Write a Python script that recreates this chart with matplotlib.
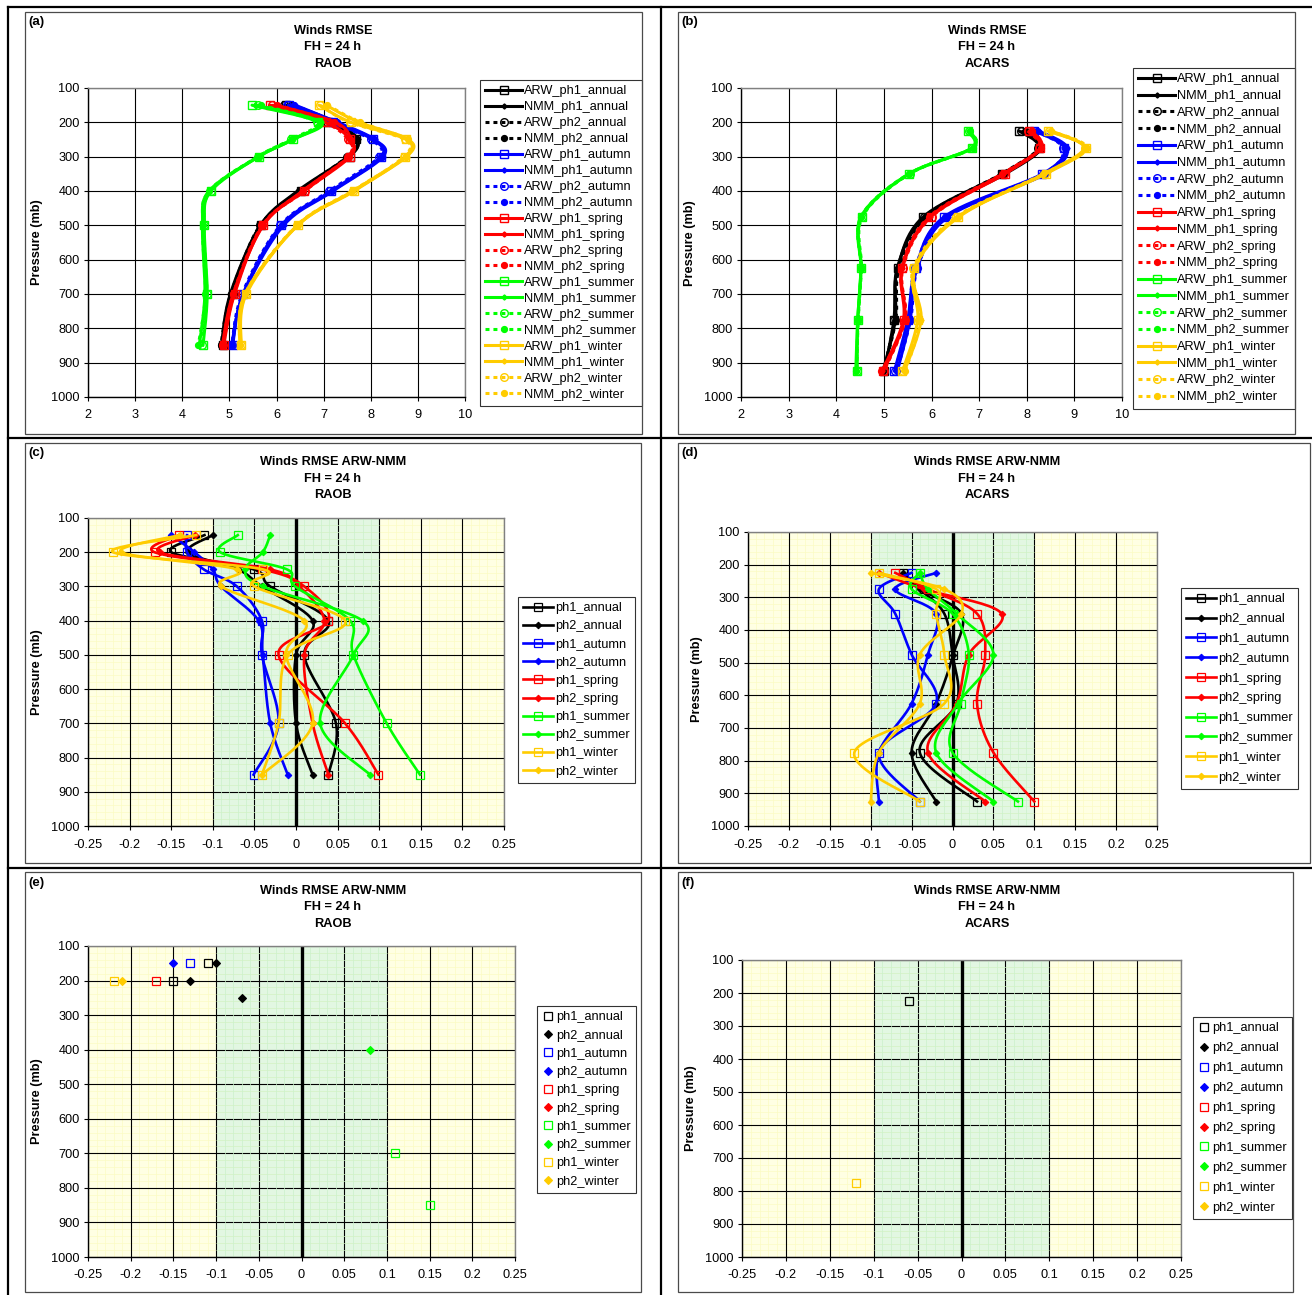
import numpy as np
import matplotlib
matplotlib.use('Agg')
import matplotlib.pyplot as plt
from matplotlib.lines import Line2D
from matplotlib.patches import Rectangle

plt.rcParams['font.family'] = ['Liberation Sans', 'DejaVu Sans']

# ---------------------------------------------------------------- data
LEVELS_RAOB = [150, 200, 250, 300, 400, 500, 700, 850]
LEVELS_ACARS = [225, 275, 350, 475, 625, 775, 925]
SEASONS = ['annual', 'autumn', 'spring', 'summer', 'winter']

# Panel (a) RAOB RMSE
A_ARW_PH1_ANNUAL = [6.20, 7.09, 7.69, 7.55, 6.52, 5.67, 5.07, 4.86]
A_NMM_PH1_ANNUAL = [6.35, 7.25, 7.72, 7.52, 6.45, 5.66, 5.02, 4.83]
A_ARW_PH2_ANNUAL = [6.15, 7.05, 7.65, 7.50, 6.55, 5.65, 5.05, 4.84]
A_NMM_PH2_ANNUAL = [6.30, 7.20, 7.70, 7.50, 6.48, 5.66, 5.03, 4.82]
A_ARW_PH1_AUTUMN = [6.26, 7.19, 8.04, 8.22, 7.16, 6.10, 5.29, 5.07]
A_NMM_PH1_AUTUMN = [6.40, 7.30, 8.08, 8.26, 7.20, 6.15, 5.30, 5.05]
A_ARW_PH2_AUTUMN = [6.22, 7.15, 8.00, 8.18, 7.12, 6.08, 5.27, 5.05]
A_NMM_PH2_AUTUMN = [6.38, 7.28, 8.06, 8.24, 7.18, 6.12, 5.30, 5.06]
A_ARW_PH1_SPRING = [5.87, 7.05, 7.56, 7.56, 6.59, 5.71, 5.11, 4.88]
A_NMM_PH1_SPRING = [6.00, 7.25, 7.58, 7.54, 6.55, 5.72, 5.08, 4.85]
A_ARW_PH2_SPRING = [5.90, 7.02, 7.52, 7.52, 6.60, 5.70, 5.10, 4.87]
A_NMM_PH2_SPRING = [6.02, 7.22, 7.55, 7.52, 6.56, 5.70, 5.08, 4.86]
A_ARW_PH1_SUMMER = [5.48, 6.88, 6.35, 5.62, 4.61, 4.47, 4.53, 4.44]
A_NMM_PH1_SUMMER = [5.55, 6.95, 6.35, 5.62, 4.57, 4.43, 4.48, 4.36]
A_ARW_PH2_SUMMER = [5.60, 6.85, 6.30, 5.60, 4.60, 4.46, 4.52, 4.42]
A_NMM_PH2_SUMMER = [5.67, 6.92, 6.33, 5.60, 4.57, 4.43, 4.49, 4.34]
A_ARW_PH1_WINTER = [6.90, 7.58, 8.75, 8.73, 7.65, 6.45, 5.36, 5.25]
A_NMM_PH1_WINTER = [7.05, 7.75, 8.80, 8.76, 7.62, 6.45, 5.33, 5.22]
A_ARW_PH2_WINTER = [6.92, 7.55, 8.72, 8.70, 7.63, 6.44, 5.35, 5.24]
A_NMM_PH2_WINTER = [7.08, 7.78, 8.78, 8.74, 7.60, 6.43, 5.33, 5.22]

# Panel (b) ACARS RMSE
B_ARW_PH1_ANNUAL = [7.84, 8.26, 7.49, 5.83, 5.29, 5.21, 5.01]
B_NMM_PH1_ANNUAL = [7.95, 8.30, 7.55, 5.88, 5.28, 5.24, 4.98]
B_ARW_PH2_ANNUAL = [7.88, 8.24, 7.47, 5.85, 5.31, 5.22, 5.00]
B_NMM_PH2_ANNUAL = [7.98, 8.28, 7.52, 5.90, 5.32, 5.25, 4.99]
B_ARW_PH1_AUTUMN = [8.16, 8.79, 8.33, 6.27, 5.67, 5.50, 5.22]
B_NMM_PH1_AUTUMN = [8.25, 8.85, 8.40, 6.35, 5.70, 5.55, 5.28]
B_ARW_PH2_AUTUMN = [8.18, 8.76, 8.35, 6.30, 5.66, 5.52, 5.23]
B_NMM_PH2_AUTUMN = [8.22, 8.82, 8.38, 6.33, 5.71, 5.56, 5.27]
B_ARW_PH1_SPRING = [8.05, 8.28, 7.54, 5.99, 5.39, 5.43, 4.99]
B_NMM_PH1_SPRING = [8.10, 8.30, 7.50, 5.97, 5.38, 5.41, 4.96]
B_ARW_PH2_SPRING = [8.02, 8.26, 7.52, 6.00, 5.40, 5.44, 5.00]
B_NMM_PH2_SPRING = [8.12, 8.29, 7.48, 5.95, 5.37, 5.45, 4.95]
B_ARW_PH1_SUMMER = [6.76, 6.84, 5.53, 4.54, 4.52, 4.45, 4.44]
B_NMM_PH1_SUMMER = [6.80, 6.86, 5.53, 4.52, 4.52, 4.45, 4.41]
B_ARW_PH2_SUMMER = [6.78, 6.85, 5.54, 4.55, 4.53, 4.46, 4.43]
B_NMM_PH2_SUMMER = [6.80, 6.87, 5.52, 4.52, 4.52, 4.46, 4.42]
B_ARW_PH1_WINTER = [8.44, 9.24, 8.40, 6.55, 5.64, 5.71, 5.39]
B_NMM_PH1_WINTER = [8.52, 9.20, 8.36, 6.58, 5.65, 5.78, 5.43]
B_ARW_PH2_WINTER = [8.46, 9.22, 8.38, 6.52, 5.62, 5.73, 5.40]
B_NMM_PH2_WINTER = [8.50, 9.26, 8.35, 6.56, 5.66, 5.76, 5.45]

# Panel (c) RAOB ARW-NMM
C_PH1_ANNUAL = [-0.110, -0.150, -0.051, -0.031, 0.039, 0.010, 0.048, 0.039]
C_PH2_ANNUAL = [-0.100, -0.130, -0.070, -0.041, 0.020, 0.000, 0.000, 0.020]
C_PH1_AUTUMN = [-0.131, -0.131, -0.111, -0.071, -0.041, -0.041, -0.021, -0.051]
C_PH2_AUTUMN = [-0.150, -0.122, -0.100, -0.090, -0.045, -0.040, -0.031, -0.010]
C_PH1_SPRING = [-0.141, -0.170, -0.041, 0.010, 0.039, -0.021, 0.059, 0.099]
C_PH2_SPRING = [-0.121, -0.164, -0.031, 0.004, 0.034, 0.010, 0.020, 0.039]
C_PH1_SUMMER = [-0.070, -0.091, -0.011, -0.001, 0.065, 0.069, 0.109, 0.149]
C_PH2_SUMMER = [-0.031, -0.040, -0.061, -0.040, 0.080, 0.069, 0.029, 0.089]
C_PH1_WINTER = [-0.120, -0.220, -0.040, -0.050, 0.059, -0.010, -0.021, -0.041]
C_PH2_WINTER = [-0.140, -0.210, -0.071, -0.090, 0.010, -0.012, 0.020, -0.041]

# Panel (d) ACARS ARW-NMM
D_PH1_ANNUAL = [-0.060, -0.040, -0.010, 0.000, 0.005, -0.040, 0.030]
D_PH2_ANNUAL = [-0.060, -0.040, 0.011, 0.001, -0.020, -0.050, -0.020]
D_PH1_AUTUMN = [-0.050, -0.090, -0.070, -0.050, -0.020, -0.090, -0.040]
D_PH2_AUTUMN = [-0.020, -0.070, -0.020, -0.030, -0.050, -0.090, -0.090]
D_PH1_SPRING = [-0.070, -0.030, 0.030, 0.040, 0.030, 0.050, 0.100]
D_PH2_SPRING = [-0.090, -0.035, 0.060, 0.020, 0.005, -0.030, 0.040]
D_PH1_SUMMER = [-0.040, -0.050, 0.000, 0.020, 0.010, 0.000, 0.080]
D_PH2_SUMMER = [-0.040, -0.030, 0.005, 0.050, 0.007, -0.020, 0.050]
D_PH1_WINTER = [-0.090, -0.020, -0.020, -0.010, -0.010, -0.120, -0.040]
D_PH2_WINTER = [-0.100, -0.010, 0.011, -0.040, -0.040, -0.090, -0.100]

# Panel (e) RAOB significant differences (levels, values)
E_PH1_ANNUAL_LEV, E_PH1_ANNUAL = [150, 200], [-0.11, -0.15]
E_PH2_ANNUAL_LEV, E_PH2_ANNUAL = [150, 200, 250], [-0.10, -0.13, -0.07]
E_PH1_AUTUMN_LEV, E_PH1_AUTUMN = [150], [-0.13]
E_PH2_AUTUMN_LEV, E_PH2_AUTUMN = [150], [-0.15]
E_PH1_SPRING_LEV, E_PH1_SPRING = [200], [-0.17]
E_PH2_SPRING_LEV, E_PH2_SPRING = [], []
E_PH1_SUMMER_LEV, E_PH1_SUMMER = [700, 850], [0.11, 0.15]
E_PH2_SUMMER_LEV, E_PH2_SUMMER = [400], [0.08]
E_PH1_WINTER_LEV, E_PH1_WINTER = [200], [-0.22]
E_PH2_WINTER_LEV, E_PH2_WINTER = [200], [-0.21]

# Panel (f) ACARS significant differences
F_PH1_ANNUAL_LEV, F_PH1_ANNUAL = [225], [-0.06]
F_PH2_ANNUAL_LEV, F_PH2_ANNUAL = [], []
F_PH1_AUTUMN_LEV, F_PH1_AUTUMN = [], []
F_PH2_AUTUMN_LEV, F_PH2_AUTUMN = [], []
F_PH1_SPRING_LEV, F_PH1_SPRING = [], []
F_PH2_SPRING_LEV, F_PH2_SPRING = [], []
F_PH1_SUMMER_LEV, F_PH1_SUMMER = [], []
F_PH2_SUMMER_LEV, F_PH2_SUMMER = [], []
F_PH1_WINTER_LEV, F_PH1_WINTER = [775], [-0.12]
F_PH2_WINTER_LEV, F_PH2_WINTER = [], []

RMSE_XTICKS = [2, 3, 4, 5, 6, 7, 8, 9, 10]
DIFF_XTICKS = [-0.25, -0.2, -0.15, -0.1, -0.05, 0, 0.05, 0.1, 0.15, 0.2, 0.25]
DIFF_XLABELS = ['-0.25', '-0.2', '-0.15', '-0.1', '-0.05', '0', '0.05', '0.1', '0.15', '0.2', '0.25']
P_TICKS = [100, 200, 300, 400, 500, 600, 700, 800, 900, 1000]

# ---------------------------------------------------------------- style
COLORS = {'annual': '#000000', 'autumn': '#0000FF', 'spring': '#FF0000',
          'summer': '#00FF00', 'winter': '#FFCC00'}
FS = 9.2
W, H = 1312, 1295

A_SERIES = {
    'annual': [A_ARW_PH1_ANNUAL, A_NMM_PH1_ANNUAL, A_ARW_PH2_ANNUAL, A_NMM_PH2_ANNUAL],
    'autumn': [A_ARW_PH1_AUTUMN, A_NMM_PH1_AUTUMN, A_ARW_PH2_AUTUMN, A_NMM_PH2_AUTUMN],
    'spring': [A_ARW_PH1_SPRING, A_NMM_PH1_SPRING, A_ARW_PH2_SPRING, A_NMM_PH2_SPRING],
    'summer': [A_ARW_PH1_SUMMER, A_NMM_PH1_SUMMER, A_ARW_PH2_SUMMER, A_NMM_PH2_SUMMER],
    'winter': [A_ARW_PH1_WINTER, A_NMM_PH1_WINTER, A_ARW_PH2_WINTER, A_NMM_PH2_WINTER],
}
B_SERIES = {
    'annual': [B_ARW_PH1_ANNUAL, B_NMM_PH1_ANNUAL, B_ARW_PH2_ANNUAL, B_NMM_PH2_ANNUAL],
    'autumn': [B_ARW_PH1_AUTUMN, B_NMM_PH1_AUTUMN, B_ARW_PH2_AUTUMN, B_NMM_PH2_AUTUMN],
    'spring': [B_ARW_PH1_SPRING, B_NMM_PH1_SPRING, B_ARW_PH2_SPRING, B_NMM_PH2_SPRING],
    'summer': [B_ARW_PH1_SUMMER, B_NMM_PH1_SUMMER, B_ARW_PH2_SUMMER, B_NMM_PH2_SUMMER],
    'winter': [B_ARW_PH1_WINTER, B_NMM_PH1_WINTER, B_ARW_PH2_WINTER, B_NMM_PH2_WINTER],
}
C_SERIES = {'annual': [C_PH1_ANNUAL, C_PH2_ANNUAL], 'autumn': [C_PH1_AUTUMN, C_PH2_AUTUMN],
            'spring': [C_PH1_SPRING, C_PH2_SPRING], 'summer': [C_PH1_SUMMER, C_PH2_SUMMER],
            'winter': [C_PH1_WINTER, C_PH2_WINTER]}
D_SERIES = {'annual': [D_PH1_ANNUAL, D_PH2_ANNUAL], 'autumn': [D_PH1_AUTUMN, D_PH2_AUTUMN],
            'spring': [D_PH1_SPRING, D_PH2_SPRING], 'summer': [D_PH1_SUMMER, D_PH2_SUMMER],
            'winter': [D_PH1_WINTER, D_PH2_WINTER]}
E_SERIES = {'annual': [(E_PH1_ANNUAL_LEV, E_PH1_ANNUAL), (E_PH2_ANNUAL_LEV, E_PH2_ANNUAL)],
            'autumn': [(E_PH1_AUTUMN_LEV, E_PH1_AUTUMN), (E_PH2_AUTUMN_LEV, E_PH2_AUTUMN)],
            'spring': [(E_PH1_SPRING_LEV, E_PH1_SPRING), (E_PH2_SPRING_LEV, E_PH2_SPRING)],
            'summer': [(E_PH1_SUMMER_LEV, E_PH1_SUMMER), (E_PH2_SUMMER_LEV, E_PH2_SUMMER)],
            'winter': [(E_PH1_WINTER_LEV, E_PH1_WINTER), (E_PH2_WINTER_LEV, E_PH2_WINTER)]}
F_SERIES = {'annual': [(F_PH1_ANNUAL_LEV, F_PH1_ANNUAL), (F_PH2_ANNUAL_LEV, F_PH2_ANNUAL)],
            'autumn': [(F_PH1_AUTUMN_LEV, F_PH1_AUTUMN), (F_PH2_AUTUMN_LEV, F_PH2_AUTUMN)],
            'spring': [(F_PH1_SPRING_LEV, F_PH1_SPRING), (F_PH2_SPRING_LEV, F_PH2_SPRING)],
            'summer': [(F_PH1_SUMMER_LEV, F_PH1_SUMMER), (F_PH2_SUMMER_LEV, F_PH2_SUMMER)],
            'winter': [(F_PH1_WINTER_LEV, F_PH1_WINTER), (F_PH2_WINTER_LEV, F_PH2_WINTER)]}

fig = plt.figure(figsize=(W / 100, H / 100), dpi=100)


def fx(x):
    return x / W


def fy(y):
    return 1 - y / H


def rect(x0, y0, x1, y1):
    return [fx(x0), fy(y1), (x1 - x0) / W, (y1 - y0) / H]


def smooth(ax, x, y, n=24):
    pts = ax.transData.transform(np.column_stack([x, y]))
    if len(pts) < 3:
        return np.asarray(x), np.asarray(y)
    P = np.vstack([pts[0], pts, pts[-1]])
    t = np.linspace(0, 1, n)[:, None]
    out = []
    for i in range(1, len(P) - 2):
        p0, p1, p2, p3 = P[i - 1], P[i], P[i + 1], P[i + 2]
        c1 = p1 + (p2 - p0) / 6.0
        c2 = p2 - (p3 - p1) / 6.0
        seg = (1 - t) ** 3 * p1 + 3 * (1 - t) ** 2 * t * c1 + 3 * (1 - t) * t ** 2 * c2 + t ** 3 * p2
        out.append(seg if i == 1 else seg[1:])
    d = ax.transData.inverted().transform(np.vstack(out))
    return d[:, 0], d[:, 1]


def base_axes(ax):
    ax.set_ylim(1000, 100)
    ax.set_yticks(P_TICKS)
    ax.tick_params(axis='both', labelsize=FS, length=3, width=0.8, direction='out')
    ax.tick_params(axis='y', pad=3)
    ax.tick_params(axis='x', pad=6)
    for s in ['left', 'bottom']:
        ax.spines[s].set_color('black')
        ax.spines[s].set_linewidth(1.0)
    for s in ['top', 'right']:
        ax.spines[s].set_color('#808080')
        ax.spines[s].set_linewidth(1.0)
    ax.set_axisbelow(True)
    ax.grid(True, color='black', lw=0.8)


def rmse_axes(ax):
    ax.set_xlim(2, 10)
    ax.set_xticks(RMSE_XTICKS)
    base_axes(ax)


def diff_axes(ax):
    ax.set_xlim(-0.25, 0.25)
    ax.set_xticks(DIFF_XTICKS)
    ax.set_xticklabels(DIFF_XLABELS)
    base_axes(ax)
    ax.set_facecolor('#FFFFE3')
    ax.axvspan(-0.1, 0.1, color='#E2F7E2', zorder=0, lw=0)
    mx = np.round(np.arange(-0.25, 0.2501, 0.01), 3)
    mx = [v for v in mx if abs(round(v / 0.05) * 0.05 - v) > 1e-6]
    yel = [v for v in mx if abs(v) > 0.1]
    grn = [v for v in mx if abs(v) < 0.1]
    my = [v for v in range(120, 1000, 20) if v % 100 != 0]
    ax.hlines(my, -0.25, 0.25, colors='#FBFBC4', lw=0.5, zorder=0.5)
    ax.hlines(my, -0.1, 0.1, colors='#CBF1CB', lw=0.5, zorder=0.6)
    ax.vlines(yel, 100, 1000, colors='#FBFBC4', lw=0.5, zorder=0.5)
    ax.vlines(grn, 100, 1000, colors='#CBF1CB', lw=0.5, zorder=0.6)
    ax.axvline(0, color='black', lw=2.4, zorder=1.5)


def legend(ax, handles, labels, x, y, spacing, hl, pad):
    leg = ax.legend(handles, labels, loc='upper left', bbox_to_anchor=(fx(x), fy(y)),
                    bbox_transform=fig.transFigure, fontsize=FS, frameon=True, fancybox=False,
                    edgecolor='black', borderaxespad=0, borderpad=0.42, labelspacing=spacing,
                    handlelength=hl, handletextpad=pad, numpoints=1)
    leg.get_frame().set_linewidth(0.8)
    leg.set_zorder(10)
    return leg


# RMSE series styles: ARW_ph1, NMM_ph1, ARW_ph2, NMM_ph2
RMSE_STYLES = [
    dict(ls='-', marker='s', ms=5.5, mfc='none'),
    dict(ls='-', marker='D', ms=2.6, mfc=None),
    dict(ls=(0, (1.3, 1.3)), marker='o', ms=5.5, mfc='none'),
    dict(ls=(0, (1.3, 1.3)), marker='o', ms=4.2, mfc=None),
]
RMSE_NAMES = ['ARW_ph1', 'NMM_ph1', 'ARW_ph2', 'NMM_ph2']


def draw_rmse(ax, series, levels, lx, ly, spacing):
    rmse_axes(ax)
    handles, labels = [], []
    z = 2
    for season in SEASONS:
        c = COLORS[season]
        for vals, st, nm in zip(series[season], RMSE_STYLES, RMSE_NAMES):
            sx, sy = smooth(ax, vals, levels)
            ax.plot(sx, sy, color=c, lw=2.2, ls=st['ls'], zorder=z, solid_capstyle='round')
            mfc = c if st['mfc'] is None else 'none'
            ax.plot(vals, levels, ls='none', marker=st['marker'], ms=st['ms'], mfc=mfc,
                    mec=c, mew=1.0, zorder=z + 0.1)
            z += 0.2
            handles.append(Line2D([], [], color=c, lw=2.2, ls=st['ls'], marker=st['marker'],
                                  ms=st['ms'], mfc=mfc, mec=c, mew=1.0))
            labels.append(f'{nm}_{season}')
    legend(ax, handles, labels, lx, ly, spacing, 2.9, 0.15)


def draw_diff(ax, series, levels, lx, ly, spacing):
    diff_axes(ax)
    handles, labels = [], []
    z = 2
    for season in SEASONS:
        c = COLORS[season]
        for k, vals in enumerate(series[season]):
            sx, sy = smooth(ax, vals, levels)
            ax.plot(sx, sy, color=c, lw=1.9, zorder=z)
            if k == 0:
                mk = dict(marker='s', ms=6.3, mfc='none', mec=c, mew=0.9)
            else:
                mk = dict(marker='D', ms=3.3, mfc=c, mec=c, mew=0.8)
            ax.plot(vals, levels, ls='none', zorder=z + 0.1, **mk)
            z += 0.2
            handles.append(Line2D([], [], color=c, lw=1.9, **mk))
            labels.append(f'ph{k + 1}_{season}')
    legend(ax, handles, labels, lx, ly, spacing, 2.3, 0.15)


def draw_sig(ax, series, lx, ly, spacing):
    diff_axes(ax)
    handles, labels = [], []
    for season in SEASONS:
        c = COLORS[season]
        for k, (lev, vals) in enumerate(series[season]):
            if k == 0:
                mk = dict(marker='s', ms=6.3, mfc='none', mec=c, mew=0.9)
            else:
                mk = dict(marker='D', ms=3.6, mfc=c, mec=c, mew=0.8)
            ax.plot(vals, lev, ls='none', zorder=3, **mk)
            handles.append(Line2D([], [], ls='none', **mk))
            labels.append(f'ph{k + 1}_{season}')
    legend(ax, handles, labels, lx, ly, spacing, 0.9, 0.2)


axA = fig.add_axes(rect(88, 88, 465, 397))
axB = fig.add_axes(rect(741, 88, 1122, 397))
axC = fig.add_axes(rect(88, 518, 504, 826))
axD = fig.add_axes(rect(748, 532, 1157, 826))
axE = fig.add_axes(rect(88, 946, 515, 1257))
axF = fig.add_axes(rect(742, 960, 1181, 1257))

draw_rmse(axA, A_SERIES, LEVELS_RAOB, 480, 80, 0.31)
draw_rmse(axB, B_SERIES, LEVELS_ACARS, 1133, 68, 0.37)
draw_diff(axC, C_SERIES, LEVELS_RAOB, 518, 597, 0.48)
draw_diff(axD, D_SERIES, LEVELS_ACARS, 1181, 588, 0.61)
draw_sig(axE, E_SERIES, 537, 1006, 0.49)
draw_sig(axF, F_SERIES, 1193, 1017, 0.62)

# ---------------------------------------------------------------- frames & text
for (x0, y0, x1, y1) in [(25, 12, 642, 434), (678, 12, 1295, 434), (25, 443, 641, 863),
                         (678, 443, 1310, 863), (25, 872, 641, 1292), (678, 872, 1293, 1292)]:
    fig.add_artist(Rectangle((fx(x0), fy(y1)), (x1 - x0) / W, (y1 - y0) / H,
                             transform=fig.transFigure, fill=False, ec='#4a4a4a', lw=0.9))

for (xa, ya, xb, yb) in [(8, 7, 8, 1295), (8, 7, 1312, 7), (661, 7, 661, 1295),
                         (8, 438, 1312, 438), (8, 868, 1312, 868)]:
    fig.add_artist(Line2D([fx(xa), fx(xb)], [fy(ya), fy(yb)], transform=fig.transFigure,
                          color='black', lw=1.6))

panels = [
    ('(a)', 28, 22, 333, 31, 'RAOB', 'Winds RMSE', 37, 242),
    ('(b)', 681, 22, 987, 31, 'ACARS', 'Winds RMSE', 690, 243),
    ('(c)', 28, 453, 333, 462, 'RAOB', 'Winds RMSE ARW-NMM', 37, 672),
    ('(d)', 681, 453, 987, 462, 'ACARS', 'Winds RMSE ARW-NMM', 697, 679),
    ('(e)', 28, 883, 333, 891, 'RAOB', 'Winds RMSE ARW-NMM', 37, 1101),
    ('(f)', 681, 883, 987, 891, 'ACARS', 'Winds RMSE ARW-NMM', 691, 1108),
]
for lab, lx, ly, tx, ty, src, ttl, px, py in panels:
    fig.text(fx(lx), fy(ly), lab, fontsize=FS + 0.3, fontweight='bold', ha='left', va='center')
    for i, line in enumerate([ttl, 'FH = 24 h', src]):
        fig.text(fx(tx), fy(ty + 16.5 * i), line, fontsize=FS, fontweight='bold',
                 ha='center', va='center')
    fig.text(fx(px), fy(py), 'Pressure (mb)', fontsize=FS, fontweight='bold', rotation=90,
             ha='center', va='center')

fig.savefig('out.png', dpi=100, facecolor='white')
